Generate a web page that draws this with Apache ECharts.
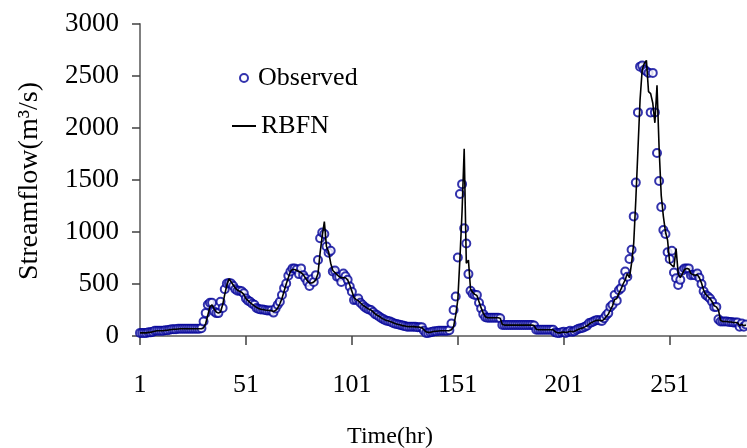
<!DOCTYPE html>
<html><head><meta charset="utf-8">
<script src="https://cdn.jsdelivr.net/npm/echarts@6/dist/echarts.min.js"></script>
<style>html,body{margin:0;padding:0;background:#fff}#c{width:747px;height:448px}</style>
</head><body><div id="c"></div>
<script>
// Observed streamflow (m3/s), hours 1..287
const observed = [
30,30,30,30,35,35,40,50,50,50,
50,50,55,55,60,65,65,65,70,70,
70,70,70,70,70,70,70,70,70,75,
140,220,300,320,320,235,220,220,330,270,
450,505,510,505,480,450,435,435,430,410,
360,340,330,310,300,270,260,255,255,250,
245,245,245,225,265,300,330,395,460,505,
580,620,650,650,640,595,650,585,555,520,
480,545,520,585,730,940,995,980,860,800,
820,620,630,570,570,520,600,575,540,475,
425,345,350,360,320,300,280,265,255,250,
230,210,200,185,170,160,150,145,140,130,
120,115,110,105,100,95,90,90,90,90,
88,85,85,85,50,30,30,35,40,45,
45,50,50,50,50,50,55,120,250,380,
755,1365,1460,1035,890,595,435,405,395,395,
320,265,210,180,175,175,175,175,175,175,
170,105,105,105,105,105,105,105,105,105,
105,105,105,105,105,105,100,60,60,60,
60,60,60,60,60,60,35,30,30,35,
40,30,40,50,40,45,60,70,75,80,
90,100,125,130,140,150,155,150,145,170,
200,220,280,300,395,340,440,460,520,620,
570,740,830,1150,1475,2150,2590,2600,2560,2545,
2530,2150,2530,2150,1760,1490,1240,1020,980,805,
740,820,610,555,490,540,630,650,650,650,
585,590,585,600,560,500,430,395,380,360,
330,280,280,160,140,140,140,140,135,135,
130,130,130,90,120,90,110
];
// RBFN model output (m3/s), hours 1..287
const rbfn = [
30,30,30,30,35,35,40,45,50,50,
50,50,55,55,60,62,65,65,68,70,
70,70,70,70,70,70,70,70,70,70,
80,120,200,280,300,260,230,220,230,300,
400,490,550,520,490,460,440,430,420,400,
360,340,320,305,290,275,265,258,255,250,
248,245,242,235,245,270,310,360,430,500,
560,620,640,640,630,620,610,590,560,530,
510,510,520,540,600,800,960,1100,860,810,
700,630,610,590,570,560,560,560,540,490,
430,370,350,340,320,300,285,270,258,250,
232,212,200,188,172,162,152,146,140,132,
122,116,110,105,100,96,92,90,90,90,
88,86,85,80,60,40,35,35,40,45,
45,48,50,50,50,50,52,60,90,200,
350,750,1200,1800,700,730,450,420,400,390,
330,270,220,185,175,175,175,175,175,175,
170,110,105,105,105,105,105,105,105,105,
105,105,105,105,105,105,100,65,60,60,
60,60,60,60,60,60,40,32,30,35,
38,33,38,45,42,45,55,65,72,78,
88,98,115,128,138,148,152,150,146,160,
185,210,250,290,350,360,410,450,500,540,
600,560,700,890,1310,1790,2270,2560,2620,2650,
2350,2330,2240,2050,2410,1800,1350,1150,1000,920,
700,680,665,840,600,560,600,640,650,645,
600,590,585,590,560,510,440,400,380,360,
330,290,280,250,150,140,140,140,135,135,
130,130,128,100,110,100,105
];
const hours = Array.from({length: observed.length}, (_, i) => String(i + 1));
const yTicks = {min: 0, max: 3000, interval: 500};
const seriesNames = ['Observed', 'RBFN'];

const FONT = 'Liberation Serif';
const NAVY = '#000099';
const chart = echarts.init(document.getElementById('c'), null, {renderer: 'canvas'});
chart.setOption({
  animation: false,
  backgroundColor: '#fff',
  grid: {left: 140, right: 1, top: 24, bottom: 112, containLabel: false},
  legend: [
    {data: [{name: seriesNames[0], icon: 'emptyCircle'}], orient: 'vertical', left: 234, top: 60, itemWidth: 8, itemHeight: 8,
     textStyle: {fontFamily: FONT, fontSize: 26, color: '#000', padding: [0,0,0,5]}},
    {data: [{name: seriesNames[1], icon: 'rect'}], orient: 'vertical', left: 227, top: 108, itemWidth: 24, itemHeight: 2,
     itemStyle: {color: '#000'},
     textStyle: {fontFamily: FONT, fontSize: 26, color: '#000', padding: [0,0,0,0]}}
  ],
  xAxis: {
    type: 'category', data: hours, boundaryGap: false,
    axisLine: {lineStyle: {color: '#808080', width: 2}},
    axisTick: {interval: 49, length: 9, lineStyle: {color: '#404040', width: 1.5}},
    axisLabel: {interval: 49, margin: 36, fontFamily: FONT, fontSize: 26, color: '#000'},
    splitLine: {show: false}
  },
  yAxis: {
    type: 'value', min: yTicks.min, max: yTicks.max, interval: yTicks.interval,
    axisLine: {show: true, lineStyle: {color: '#808080', width: 2}},
    axisTick: {show: true, length: 8, lineStyle: {color: '#404040', width: 1.5}},
    axisLabel: {margin: 21, fontFamily: FONT, fontSize: 27, color: '#000',
                formatter: v => String(v)},
    splitLine: {show: false}
  },
  graphic: [
    {type: 'text', x: 30, y: 181, rotation: Math.PI / 2,
     style: {text: 'Streamflow(m³/s)', fontFamily: FONT, fontSize: 28, fill: '#000',
             textAlign: 'center', textVerticalAlign: 'middle'}},
    {type: 'text', x: 390, y: 437,
     style: {text: 'Time(hr)', fontFamily: FONT, fontSize: 24, fill: '#000',
             textAlign: 'center', textVerticalAlign: 'middle'}}
  ],
  series: [
    {name: seriesNames[0], type: 'scatter', data: observed, symbol: 'emptyCircle', symbolSize: 8,
     itemStyle: {color: NAVY, borderColor: NAVY, borderWidth: 2.2}, z: 2},
    {name: seriesNames[1], type: 'line', data: rbfn, showSymbol: false, symbol: 'none',
     lineStyle: {color: '#000', width: 1.6}, z: 3}
  ]
});
</script></body></html>
